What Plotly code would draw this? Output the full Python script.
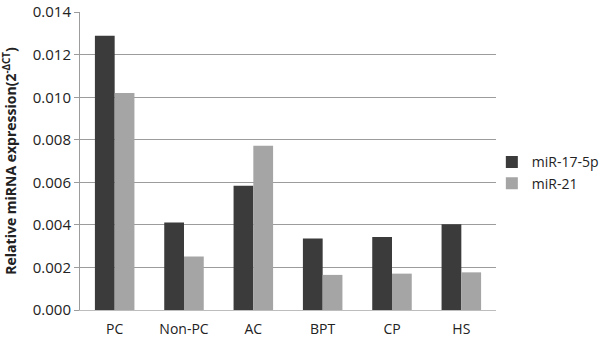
import plotly.graph_objects as go

categories = ["PC", "Non-PC", "AC", "BPT", "CP", "HS"]
mir17 = [0.01289, 0.00411, 0.00584, 0.00336, 0.00343, 0.00403]
mir21 = [0.01020, 0.00251, 0.00772, 0.00165, 0.00171, 0.00177]
y_ticks = [0.000, 0.002, 0.004, 0.006, 0.008, 0.010, 0.012, 0.014]

FONT = "Open Sans"

fig = go.Figure()
fig.add_trace(go.Bar(name="miR-17-5p", x=categories, y=mir17, marker=dict(color="#3b3b3b", line=dict(width=0))))
fig.add_trace(go.Bar(name="miR-21", x=categories, y=mir21, marker=dict(color="#a5a5a5", line=dict(width=0))))

fig.update_layout(
    width=600, height=340,
    margin=dict(l=80, r=104, t=12, b=30, autoexpand=False),
    paper_bgcolor="white", plot_bgcolor="white",
    barmode="group", bargap=0.43, bargroupgap=0,
    font=dict(family=FONT, size=15, color="#222"),
    legend=dict(x=0.99, y=0.46, xanchor="left", yanchor="middle",
                font=dict(family=FONT, size=14, color="#222"),
                itemwidth=30, tracegroupgap=0, bgcolor="rgba(0,0,0,0)"),
    xaxis=dict(showline=True, linecolor="#bdbdbd", linewidth=1, ticks="",
               ticklabelstandoff=6, automargin=False,
               tickfont=dict(family=FONT, size=14, color="#222"), showgrid=False),
    yaxis=dict(range=[0, 0.01401], tickvals=y_ticks, tickformat=".3f",
               showgrid=True, gridcolor="#9c9c9c", gridwidth=1,
               showline=True, linecolor="#9c9c9c", linewidth=1,
               ticks="outside", ticklen=5, tickcolor="#9c9c9c",
               zeroline=False, automargin=False, ticklabeloverflow="allow",
               tickfont=dict(family=FONT, size=15, color="#222"),
               title=dict(text="<b>Relative miRNA expression(2<sup>-ΔCT</sup>)</b>",
                          font=dict(family=FONT, size=14, color="#222"))),
)

fig.write_html("out.html")
